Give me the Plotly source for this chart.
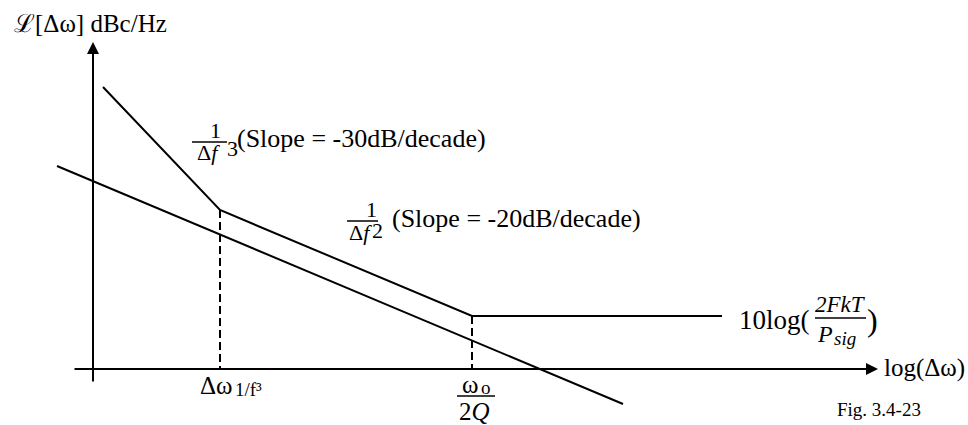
import plotly.graph_objects as go

# Asymptotic phase-noise sketch: x = log(Δω) position, y = level (relative units)
upper_x = [10, 127, 379, 629]      # 1/f^3 region -> 1/f^2 region -> flat floor
upper_y = [282, 159, 53, 53]
lower_x = [-36, 530]               # reference -20 dB/decade line
lower_y = [203, -35]
corner_x = [127, 379]              # Δω_1/f3 and ω0/2Q corners
corner_y = [159, 53]

x_axis = [-20, 785]
y_axis = [-14, 327]

FONT = "Liberation Serif"
LW = 2

fig = go.Figure()

fig.add_trace(go.Scatter(x=upper_x, y=upper_y, mode="lines",
                         line=dict(color="black", width=LW)))
fig.add_trace(go.Scatter(x=lower_x, y=lower_y, mode="lines",
                         line=dict(color="black", width=LW)))
for cx, cy in zip(corner_x, corner_y):
    fig.add_trace(go.Scatter(x=[cx, cx], y=[cy, 0], mode="lines",
                             line=dict(color="black", width=LW, dash="8px,4px")))

annotations = []
# axes with arrowheads
annotations.append(dict(x=x_axis[1], y=0, ax=x_axis[0], ay=0, xref="x", yref="y",
                        axref="x", ayref="y", text="", showarrow=True,
                        arrowhead=2, arrowsize=1.2, arrowwidth=LW, arrowcolor="black"))
annotations.append(dict(x=0, y=y_axis[1], ax=0, ay=y_axis[0], xref="x", yref="y",
                        axref="x", ayref="y", text="", showarrow=True,
                        arrowhead=2, arrowsize=1.2, arrowwidth=LW, arrowcolor="black"))


def label(x, y, text, size=26, xanchor="center"):
    annotations.append(dict(x=x, y=y, xref="x", yref="y", text=text, showarrow=False,
                            xanchor=xanchor, yanchor="middle",
                            font=dict(family=FONT, size=size, color="black")))


label(-81, 346, "ℒ[Δω] dBc/Hz", 25, xanchor="left")

# 1/Δf^3 label
label(122, 239, "1", 22)
label(115, 217, "Δ<i>f</i>", 22)
label(139, 221, "3", 22)
label(142, 231, "(Slope = -30dB/decade)", xanchor="left")

# 1/Δf^2 label
label(278, 160, "1", 22)
label(267, 137, "Δ<i>f</i>", 22)
label(284, 139, "2", 22)
label(297, 151, "(Slope = -20dB/decade)", xanchor="left")

# noise floor label
label(644, 49, "10log(", 27, xanchor="left")
label(747, 65, "<i>2FkT</i>", 23)
label(722, 35, "<i>P</i>", 24, xanchor="left")
label(739, 31, "<i>sig</i>", 19, xanchor="left")
label(779, 49, ")", 32)

# axis labels
label(789, 1, "log(Δω)", 25, xanchor="left")
label(742, -40, "Fig. 3.4-23", 19, xanchor="left")
label(105, -16, "Δω", 25, xanchor="left")
label(140, -20, "1/f³", 19, xanchor="left")
label(377, -15, "ω", 25)
label(393, -18, "o", 19)
label(381, -42, "2<i>Q</i>", 25)

shapes = [
    dict(type="line", x0=99, x1=134, y0=227, y1=227, xref="x", yref="y",
         line=dict(color="black", width=1.5)),
    dict(type="line", x0=254, x1=285, y0=148, y1=148, xref="x", yref="y",
         line=dict(color="black", width=1.5)),
    dict(type="line", x0=722, x1=773, y0=51, y1=51, xref="x", yref="y",
         line=dict(color="black", width=1.5)),
    dict(type="line", x0=364, x1=402, y0=-27, y1=-27, xref="x", yref="y",
         line=dict(color="black", width=1.5)),
]

fig.update_layout(
    width=968, height=425,
    margin=dict(l=0, r=0, t=0, b=0),
    paper_bgcolor="white", plot_bgcolor="white",
    showlegend=False,
    xaxis=dict(range=[-93, 875], visible=False, fixedrange=True),
    yaxis=dict(range=[-56, 369], visible=False, fixedrange=True),
    annotations=annotations,
    shapes=shapes,
)

fig.write_html("out.html", config=dict(displayModeBar=False))
